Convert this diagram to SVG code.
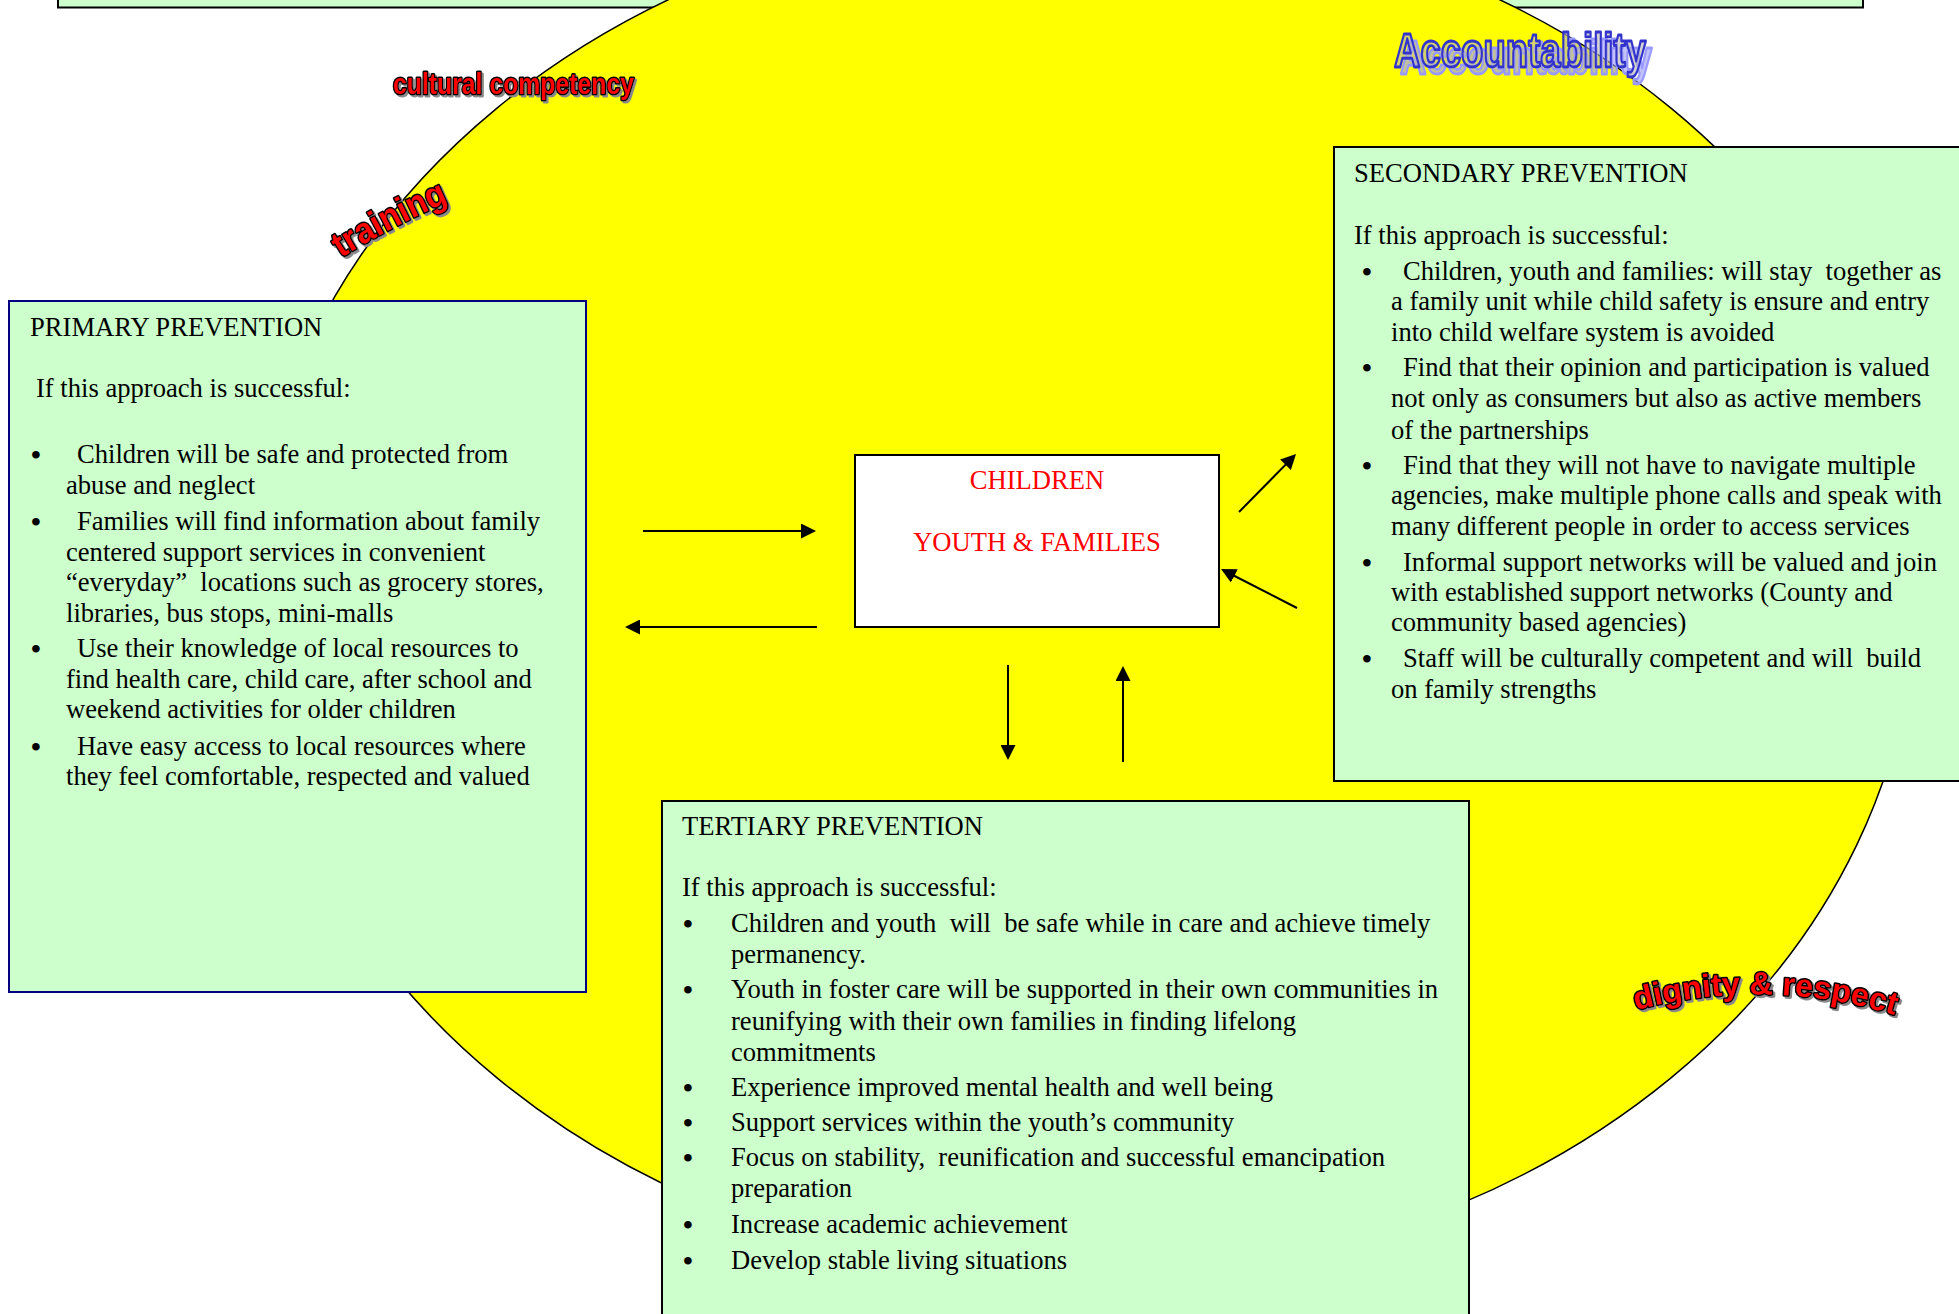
<svg xmlns="http://www.w3.org/2000/svg" width="1959" height="1314" viewBox="0 0 1959 1314">
<style>
.box{fill:#CCFFCC;stroke:#000;stroke-width:2}
.t{font-family:"Liberation Serif","Times New Roman",serif;font-size:26.6px;fill:#000;white-space:pre}
.red{fill:#FF0000}
.b{text-anchor:middle;font-size:28px;font-weight:bold}
.wa{font-family:"Liberation Sans",Arial,sans-serif;font-weight:bold;fill:#FF0000;stroke:#000;stroke-width:3;paint-order:stroke;stroke-linejoin:round;filter:url(#sh)}
.arr{stroke:#000;stroke-width:2;fill:none;marker-end:url(#ah)}
</style>
<defs>
<marker id="ah" viewBox="0 0 10 10" refX="2" refY="5" markerWidth="15" markerHeight="15" markerUnits="userSpaceOnUse" orient="auto"><path d="M0,0 L10,5 L0,10 z" fill="#000"/></marker>
<filter id="sh" x="-10%" y="-20%" width="130%" height="160%"><feOffset in="SourceAlpha" dx="2" dy="2" result="o"/><feFlood flood-color="#8a8a8a"/><feComposite in2="o" operator="in"/><feMerge><feMergeNode/><feMergeNode in="SourceGraphic"/></feMerge></filter>
<filter id="bsh" x="-10%" y="-30%" width="130%" height="180%"><feOffset in="SourceAlpha" dx="6" dy="7" result="o"/><feFlood flood-color="#9999FF"/><feComposite in2="o" operator="in"/><feMerge><feMergeNode/><feMergeNode in="SourceGraphic"/></feMerge></filter>
<path id="trainPath" d="M341,258 Q392,226 457,198"/>
<path id="dignPath" d="M1636,1010 Q1770,975 1904,1018"/>
</defs>
<rect width="1959" height="1314" fill="#fff"/>
<g id="banner"><rect x="58" y="-10" width="1805" height="17.5" class="box"/></g>
<g id="circle"><ellipse cx="1084" cy="593" rx="831" ry="685" fill="#FFFF00" stroke="#000" stroke-width="1.5"/></g>
<g id="wordart">
<text class="wa" x="393" y="94" font-size="30" textLength="241" lengthAdjust="spacingAndGlyphs">cultural competency</text>
<text class="wa" font-size="36"><textPath href="#trainPath" textLength="122" lengthAdjust="spacingAndGlyphs">training</textPath></text>
<text font-family="Liberation Sans,Arial,sans-serif" font-weight="bold" font-size="48" x="1394" y="67" textLength="252" lengthAdjust="spacingAndGlyphs" fill="#B5B5B5" fill-opacity="0.6" stroke="#3333CC" stroke-width="2.8" stroke-linejoin="round" filter="url(#bsh)">Accountability</text>
<text class="wa" font-size="32"><textPath href="#dignPath" textLength="262" lengthAdjust="spacingAndGlyphs">dignity &amp; respect</textPath></text>
</g>
<g id="primary">
<rect x="9" y="301" width="577" height="691" class="box" style="stroke:#000080"/>
<text class="t" x="30" y="336">PRIMARY PREVENTION</text>
<text class="t" x="36" y="397">If this approach is successful:</text>
<text class="t b" x="36" y="464">•</text><text class="t" x="77" y="463">Children will be safe and protected from</text>
<text class="t" x="66" y="494">abuse and neglect</text>
<text class="t b" x="36" y="531">•</text><text class="t" x="77" y="530">Families will find information about family</text>
<text class="t" x="66" y="561">centered support services in convenient</text>
<text class="t" x="66" y="591">“everyday”  locations such as grocery stores,</text>
<text class="t" x="66" y="622">libraries, bus stops, mini-malls</text>
<text class="t b" x="36" y="658">•</text><text class="t" x="77" y="657">Use their knowledge of local resources to</text>
<text class="t" x="66" y="688">find health care, child care, after school and</text>
<text class="t" x="66" y="718">weekend activities for older children</text>
<text class="t b" x="36" y="756">•</text><text class="t" x="77" y="755">Have easy access to local resources where</text>
<text class="t" x="66" y="785">they feel comfortable, respected and valued</text>
</g>
<g id="secondary">
<rect x="1334" y="147" width="640" height="634" class="box"/>
<text class="t" x="1354" y="182">SECONDARY PREVENTION</text>
<text class="t" x="1354" y="244">If this approach is successful:</text>
<text class="t b" x="1367" y="281">•</text><text class="t" x="1403" y="280">Children, youth and families: will stay  together as</text>
<text class="t" x="1391" y="310">a family unit while child safety is ensure and entry</text>
<text class="t" x="1391" y="341">into child welfare system is avoided</text>
<text class="t b" x="1367" y="377">•</text><text class="t" x="1403" y="376">Find that their opinion and participation is valued</text>
<text class="t" x="1391" y="407">not only as consumers but also as active members</text>
<text class="t" x="1391" y="439">of the partnerships</text>
<text class="t b" x="1367" y="475">•</text><text class="t" x="1403" y="474">Find that they will not have to navigate multiple</text>
<text class="t" x="1391" y="504">agencies, make multiple phone calls and speak with</text>
<text class="t" x="1391" y="535">many different people in order to access services</text>
<text class="t b" x="1367" y="572">•</text><text class="t" x="1403" y="571">Informal support networks will be valued and join</text>
<text class="t" x="1391" y="601">with established support networks (County and</text>
<text class="t" x="1391" y="631">community based agencies)</text>
<text class="t b" x="1367" y="668">•</text><text class="t" x="1403" y="667">Staff will be culturally competent and will  build</text>
<text class="t" x="1391" y="698">on family strengths</text>
</g>
<g id="tertiary">
<rect x="662" y="801" width="807" height="530" class="box"/>
<text class="t" x="682" y="835">TERTIARY PREVENTION</text>
<text class="t" x="682" y="896">If this approach is successful:</text>
<text class="t b" x="688" y="933">•</text><text class="t" x="731" y="932">Children and youth  will  be safe while in care and achieve timely</text>
<text class="t" x="731" y="963">permanency.</text>
<text class="t b" x="688" y="999">•</text><text class="t" x="731" y="998">Youth in foster care will be supported in their own communities in</text>
<text class="t" x="731" y="1030">reunifying with their own families in finding lifelong</text>
<text class="t" x="731" y="1061">commitments</text>
<text class="t b" x="688" y="1097">•</text><text class="t" x="731" y="1096">Experience improved mental health and well being</text>
<text class="t b" x="688" y="1132">•</text><text class="t" x="731" y="1131">Support services within the youth’s community</text>
<text class="t b" x="688" y="1167">•</text><text class="t" x="731" y="1166">Focus on stability,  reunification and successful emancipation</text>
<text class="t" x="731" y="1197">preparation</text>
<text class="t b" x="688" y="1234">•</text><text class="t" x="731" y="1233">Increase academic achievement</text>
<text class="t b" x="688" y="1270">•</text><text class="t" x="731" y="1269">Develop stable living situations</text>
</g>
<g id="center">
<rect x="855" y="455" width="364" height="172" fill="#fff" stroke="#000" stroke-width="2"/>
<text class="t red" x="1037" y="489" text-anchor="middle">CHILDREN</text>
<text class="t red" x="1037" y="551" text-anchor="middle">YOUTH &amp; FAMILIES</text>
</g>
<g id="connectors">
<path class="arr" d="M643,531 L804,531"/>
<path class="arr" d="M817,627 L637,627"/>
<path class="arr" d="M1239,512 L1287.6,462.6"/>
<path class="arr" d="M1297,608 L1231.7,574.5"/>
<path class="arr" d="M1008,665 L1008,748"/>
<path class="arr" d="M1123,762 L1123,678"/>
</g>
</svg>
